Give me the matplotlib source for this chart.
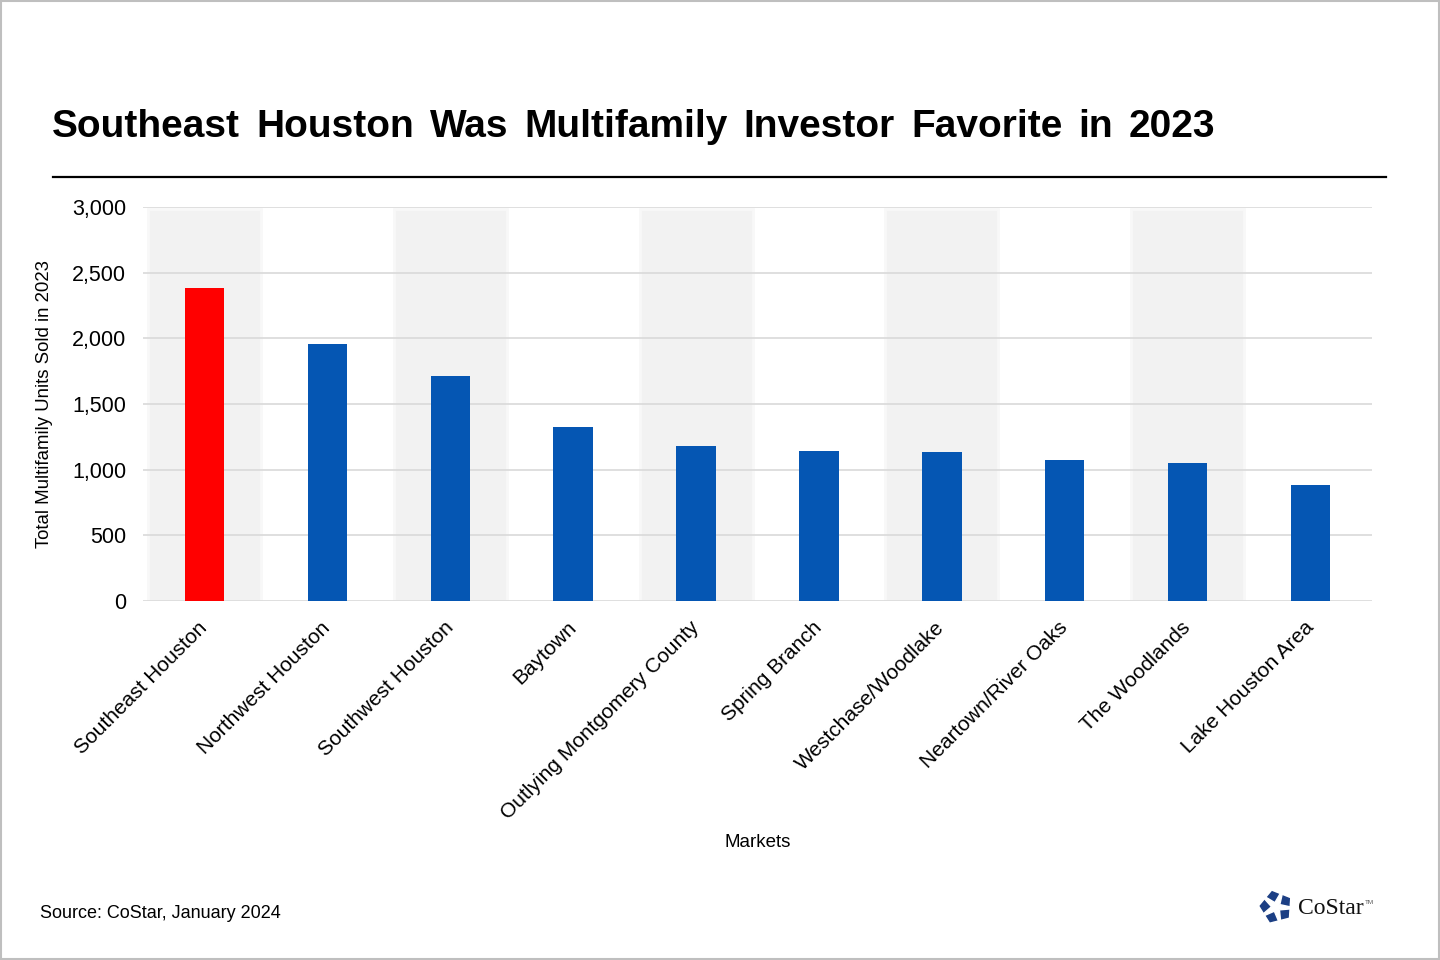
import numpy as np
import matplotlib.pyplot as plt
from matplotlib.patches import Rectangle, RegularPolygon, Polygon
from matplotlib.lines import Line2D

plt.rcParams['font.family'] = ['Liberation Sans', 'DejaVu Sans']

# data
markets = ["Southeast Houston", "Northwest Houston", "Southwest Houston", "Baytown",
           "Outlying Montgomery County", "Spring Branch", "Westchase/Woodlake",
           "Neartown/River Oaks", "The Woodlands", "Lake Houston Area"]
units_sold = [2385, 1960, 1715, 1325, 1180, 1142, 1135, 1074, 1051, 883]
highlight = "Southeast Houston"
yticks = [0, 500, 1000, 1500, 2000, 2500, 3000]
title = "Southeast Houston Was Multifamily Investor Favorite in 2023"

fig = plt.figure(figsize=(14.4, 9.6), dpi=100)
ax = fig.add_axes([143 / 1440, 1 - 601 / 960, 1229 / 1440, 394 / 960])

x = np.arange(len(markets))
colors = ["#ff0000" if m == highlight else "#0556b3" for m in markets]

# alternating shaded bands behind every other market
for i in x[::2]:
    ax.axvspan(i - 0.46, i + 0.46, ymin=0, ymax=0.995, facecolor="#f2f2f2",
               edgecolor="#f8f8f8", linewidth=2, zorder=0)

ax.bar(x, units_sold, width=0.32, color=colors, zorder=3)

ax.set_xlim(-0.5, len(markets) - 0.5)
ax.set_ylim(0, 3000)
ax.set_yticks(yticks)
ax.set_yticklabels([f"{v:,}" for v in yticks], fontsize=15.5)
ax.yaxis.grid(True, color="#d9d9d9", linewidth=1.2, zorder=1)
ax.set_axisbelow(True)
ax.tick_params(axis="both", length=0)
ax.tick_params(axis="y", pad=12)
for s in ax.spines.values():
    s.set_visible(False)

ax.set_xticks(x)
ax.set_xticklabels(markets, rotation=45, ha="right", va="center",
                   rotation_mode="anchor", fontsize=15)
ax.tick_params(axis="x", pad=17)

ax.set_ylabel("Total Multifamily Units Sold in 2023", fontsize=13.4, labelpad=14)
ax.set_xlabel("Markets", fontsize=13.5)
ax.xaxis.set_label_coords(0.5, -0.591)

# title, word by word with wider gaps, and rule
renderer = fig.canvas.get_renderer()
xpos = 52
for word in title.split():
    t = fig.text(xpos / 1440, 1 - 127 / 960, word, fontsize=28, fontweight="bold",
                 va="center", ha="left")
    xpos += t.get_window_extent(renderer).width + 16
fig.add_artist(Line2D([53 / 1440, 1386 / 1440], [1 - 177 / 960] * 2, color="black", linewidth=1.6))

fig.text(40 / 1440, 1 - 913 / 960, "Source: CoStar, January 2024", fontsize=13, va="center")

# frame
fig.add_artist(Rectangle((0.0005, 0.0008), 0.999, 0.9985, transform=fig.transFigure,
                         fill=False, edgecolor="#bfbfbf", linewidth=1.5))

# CoStar logo
lax = fig.add_axes([1258 / 1440, 1 - 925 / 960, 36 / 1440, 36 / 960])
lax.set_xlim(-1.2, 1.2)
lax.set_ylim(-1.2, 1.2)
lax.set_aspect("equal")
lax.axis("off")
lax.add_patch(RegularPolygon((0, 0), 5, radius=1.05, orientation=0.25, color="#1c3f84"))
ang = np.pi / 2 + 0.25 + np.pi / 5 + np.arange(10) * np.pi / 5
rad = np.where(np.arange(10) % 2 == 0, 1.4, 0.3)
lax.add_patch(Polygon(np.c_[rad * np.cos(ang), rad * np.sin(ang)], color="white"))
fig.text(1298 / 1440, 1 - 908 / 960, "CoStar", fontsize=17, family="Liberation Serif",
         va="center", ha="left", color="#111111")
fig.text(1365 / 1440, 1 - 903 / 960, "TM", fontsize=4.5, va="center", ha="left", color="#555555")

fig.savefig("out.png", dpi=100)
